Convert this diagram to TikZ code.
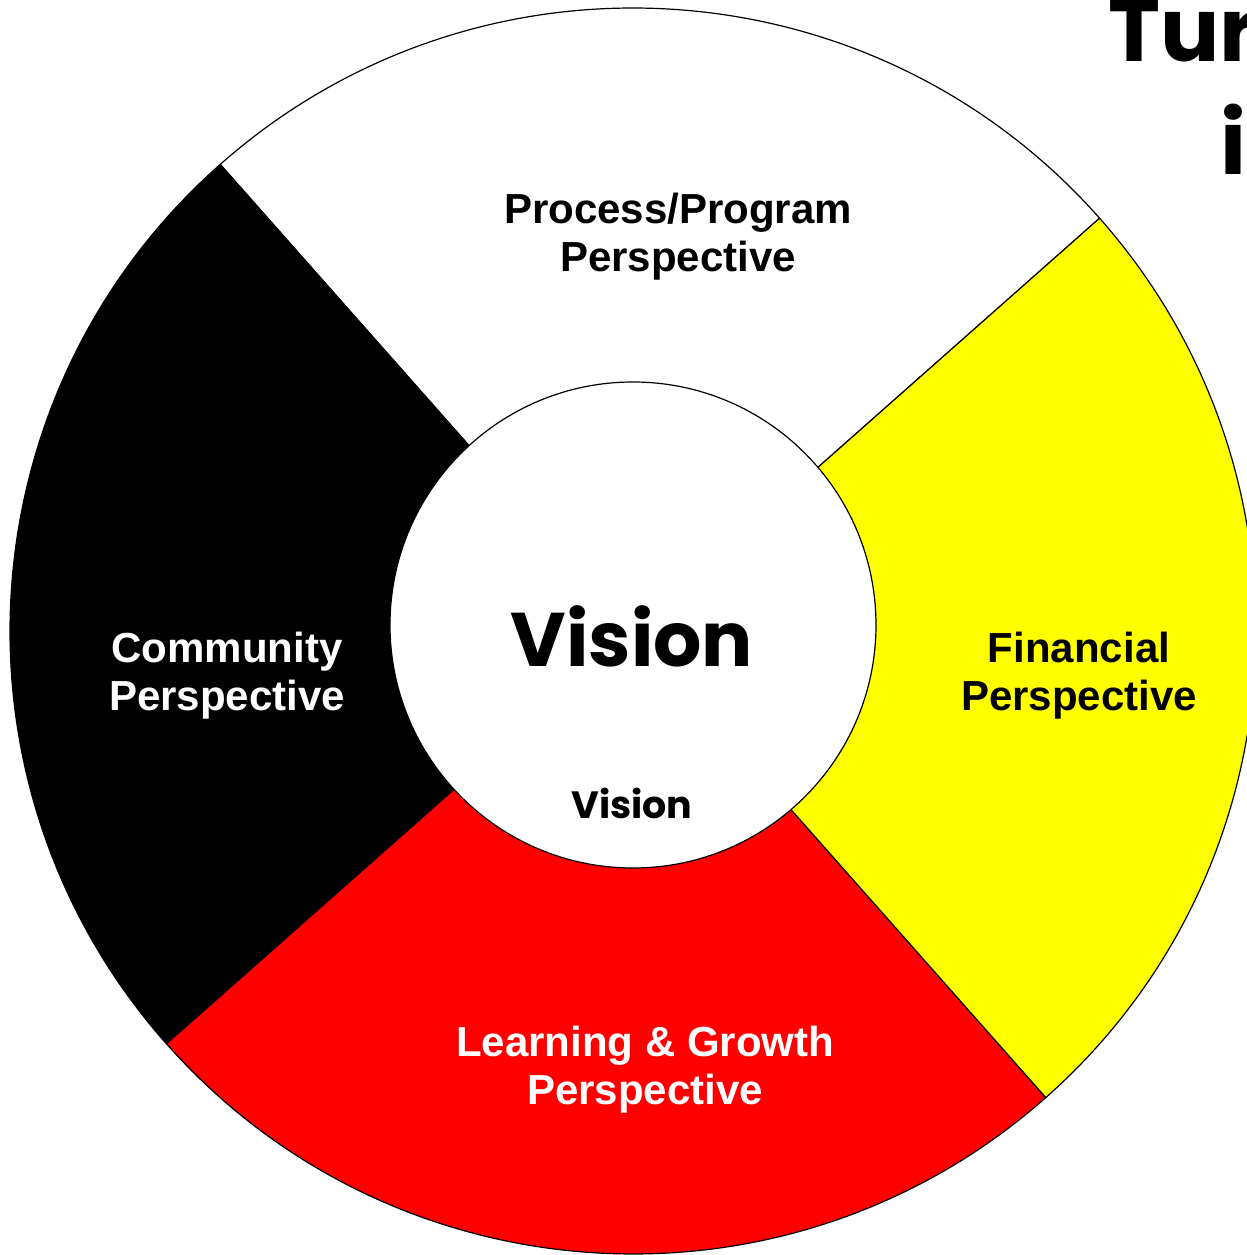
\documentclass[tikz,border=0pt]{standalone}
\usepackage{fontspec}
\setmainfont{Liberation Sans}
\newfontfamily\handfont{Poppins}
\definecolor{wheelyellow}{RGB}{255,255,0}
\definecolor{wheelred}{RGB}{255,0,0}

\begin{document}
\begin{tikzpicture}[line cap=round,line join=round,x=0.5pt,y=0.5pt,
    wedge/.style={draw=black,line width=0.6pt},
    persp/.style={align=center,font=\bfseries\fontsize{21}{24}\selectfont,inner sep=0pt},
    bigword/.style={font=\handfont\bfseries\fontsize{38}{40}\selectfont,inner sep=0pt,anchor=base},
    titleword/.style={font=\handfont\bfseries\fontsize{44}{46}\selectfont,inner sep=0pt,anchor=base west}]
            \clip (0,0) rectangle (1247,1255);

            % centre of the wheel and of the hub
            \coordinate (wheel) at (633,624);
            \coordinate (hub) at (633,630);

            % the four quarters
            \filldraw [wedge,fill=white] (wheel) -- ++(41.5:623) arc [start angle=41.5, end angle=131.5, radius=623] -- cycle;
            \filldraw [wedge,fill=black] (wheel) -- ++(131.5:623) arc [start angle=131.5, end angle=221.5, radius=623] -- cycle;
            \filldraw [wedge,fill=wheelred] (wheel) -- ++(221.5:623) arc [start angle=221.5, end angle=311.5, radius=623] -- cycle;
            \filldraw [wedge,fill=wheelyellow] (wheel) -- ++(311.5:623) arc [start angle=311.5, end angle=401.5, radius=623] -- cycle;

            % hub
            \filldraw [wedge,fill=white] (hub) circle [radius=243];

            \node [persp] (process) at (678,1018) {Process/Program\\Perspective};
            \node [persp,text=white] (community) at (227,579) {Community\\Perspective};
            \node [persp] (financial) at (1079,579) {Financial\\Perspective};
            \node [persp,text=white] (learning) at (645,185) {Learning \& Growth\\Perspective};

            \node [bigword] (vision) at (632,588) {Vision};
            \node [bigword,font=\handfont\bfseries\fontsize{19}{20}\selectfont] (visionsmall) at (632,436) {Vision};

            % title, cut by the page edge
            \node [titleword] (turn) at (1108,1193) {Turn};
            \node [titleword] (into) at (1220,1080) {in};
\end{tikzpicture}
\end{document}
